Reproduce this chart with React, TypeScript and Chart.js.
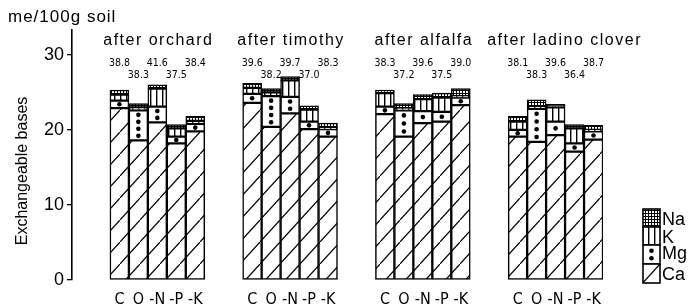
import React, { useEffect, useRef } from 'react';
import { Chart, registerables } from 'chart.js';
Chart.register(...registerables);

// ---- data ----
const groups = ['after orchard', 'after timothy', 'after alfalfa', 'after ladino clover'];
const categories = ['C', 'O', '-N', '-P', '-K'];
const ca = [22.9, 18.6, 21.0, 18.2, 19.8, 23.6, 20.4, 22.2, 20.1, 19.1, 22.1, 19.1, 20.9, 21.1, 23.3, 19.1, 18.4, 19.3, 17.1, 18.7];
const mg = [1.0, 4.0, 2.1, 0.9, 1.0, 1.2, 4.1, 2.2, 1.0, 1.0, 1.0, 3.5, 1.6, 1.3, 1.0, 0.9, 4.4, 1.8, 1.1, 1.1];
const kk = [0.8, 0.4, 2.4, 1.1, 0.4, 0.8, 0.5, 2.2, 1.6, 0.2, 1.8, 0.3, 1.6, 1.9, 0.2, 1.1, 0.3, 1.9, 2.0, 0.2];
const na = [0.6, 0.5, 0.5, 0.5, 0.6, 0.6, 0.5, 0.5, 0.5, 0.6, 0.4, 0.6, 0.6, 0.6, 1.0, 0.7, 0.9, 0.4, 0.5, 0.6];
const totals = ['38.8', '38.3', '41.6', '37.5', '38.4', '39.6', '38.2', '39.7', '37.0', '38.3', '38.3', '37.2', '39.6', '37.5', '39.0', '38.1', '38.3', '39.6', '36.4', '38.7'];
const yTicks = [0, 10, 20, 30];
const yMax = 33.3;
const unitLabel = 'me/100g soil';
const yTitle = 'Exchangeable bases';
const legendItems = ['Na', 'K', 'Mg', 'Ca'];

const GAP = 2;
const FONT = "'Liberation Sans', Arial, Helvetica, sans-serif";
const NARROW = "'Liberation Sans Narrow', 'DejaVu Sans Condensed', 'Liberation Sans', sans-serif";

function buildSlots() {
  const labels: string[] = [];
  const index: (number | null)[] = [];
  for (let g = 0; g < groups.length; g++) {
    for (let s = 0; s < GAP; s++) { labels.push(''); index.push(null); }
    categories.forEach((c, ci) => { labels.push(c); index.push(g * categories.length + ci); });
  }
  return { labels, index };
}

function makePattern(kind: string): CanvasPattern | string {
  const c = document.createElement('canvas');
  const x = c.getContext('2d')!;
  if (kind === 'ca') {
    const w = 20, h = 22;
    c.width = w; c.height = h;
    x.fillStyle = '#fff'; x.fillRect(0, 0, w, h);
    x.strokeStyle = '#000'; x.lineWidth = 1.2;
    x.beginPath(); x.moveTo(-w, 2 * h); x.lineTo(2 * w, -h); x.stroke();
  } else if (kind === 'k') {
    c.width = 6; c.height = 2;
    x.fillStyle = '#fff'; x.fillRect(0, 0, 6, 2);
    x.fillStyle = '#000'; x.fillRect(0, 0, 1.4, 2);
  } else if (kind === 'na') {
    c.width = 3; c.height = 3;
    x.fillStyle = '#fff'; x.fillRect(0, 0, 3, 3);
    x.fillStyle = '#000'; x.fillRect(0, 0, 3, 1); x.fillRect(0, 0, 1, 3);
  } else {
    return '#fff';
  }
  return x.createPattern(c, 'repeat')!;
}

export default function App() {
  const ref = useRef<HTMLCanvasElement>(null);
  useEffect(() => {
    const { labels, index } = buildSlots();
    const pick = (arr: number[]) => index.map((i) => (i === null ? null : arr[i]));
    const pats: Record<string, any> = { ca: makePattern('ca'), mg: makePattern('mg'), k: makePattern('k'), na: makePattern('na') };

    const dots = (ctx: CanvasRenderingContext2D, cx: number, top: number, bottom: number) => {
      const h = bottom - top;
      const n = Math.max(1, Math.round((h - 3) / 7));
      ctx.fillStyle = '#000';
      for (let j = 0; j < n; j++) {
        const cy = top + (h * (j + 0.5)) / n;
        ctx.beginPath(); ctx.arc(cx, cy, 2.3, 0, Math.PI * 2); ctx.fill();
      }
    };

    const decor = {
      id: 'decor',
      afterDatasetsDraw(chart: any) {
        const ctx = chart.ctx as CanvasRenderingContext2D;
        const meta = chart.getDatasetMeta(1);
        meta.data.forEach((el: any, si: number) => {
          if (index[si] === null) return;
          const p = el.getProps(['x', 'y', 'base'], true);
          dots(ctx, p.x, Math.min(p.y, p.base) + 1, Math.max(p.y, p.base) - 1);
        });
      },
      afterDraw(chart: any) {
        const ctx = chart.ctx as CanvasRenderingContext2D;
        const xs = chart.scales.x;
        const area = chart.chartArea;
        ctx.save();
        ctx.fillStyle = '#000';
        // unit label
        ctx.font = `17px ${FONT}`;
        (ctx as any).letterSpacing = '1px';
        ctx.textAlign = 'left'; ctx.textBaseline = 'middle';
        ctx.fillText(unitLabel, 8, 17);
        // group titles (centred over group, pushed right if they would touch the previous one)
        ctx.font = `16px ${FONT}`;
        (ctx as any).letterSpacing = '1.5px';
        ctx.textAlign = 'left';
        let prevRight = -Infinity;
        groups.forEach((g, gi) => {
          const first = gi * (GAP + categories.length) + GAP;
          const cx = (xs.getPixelForValue(first) + xs.getPixelForValue(first + categories.length - 1)) / 2;
          const w = ctx.measureText(g).width;
          let left = cx - w / 2 + 1;
          if (left < prevRight + 14) left = prevRight + 14;
          ctx.fillText(g, left, area.top + 11);
          prevRight = left + w;
        });
        // totals
        (ctx as any).letterSpacing = '0px';
        ctx.textAlign = 'center';
        ctx.font = `10.5px ${NARROW}`;
        index.forEach((i, si) => {
          if (i === null) return;
          const ci = i % categories.length;
          const y = ci % 2 === 0 ? area.top + 33 : area.top + 45;
          ctx.fillText(totals[i], xs.getPixelForValue(si), y);
        });
        // y title
        ctx.save();
        ctx.font = `16px ${FONT}`;
        ctx.translate(23, 171);
        ctx.rotate(-Math.PI / 2);
        ctx.textAlign = 'center';
        ctx.fillText(yTitle, 0, 0);
        ctx.restore();
        // legend
        const lx = 643, lw = 17;
        const segs = [
          { key: 'na', top: 209, bottom: 227, ly: 220 },
          { key: 'k', top: 227, bottom: 245, ly: 238 },
          { key: 'mg', top: 245, bottom: 264, ly: 254 },
          { key: 'ca', top: 264, bottom: 283, ly: 275 },
        ];
        segs.forEach((s, idx) => {
          ctx.fillStyle = pats[s.key];
          ctx.fillRect(lx, s.top, lw, s.bottom - s.top);
          ctx.strokeStyle = '#000'; ctx.lineWidth = 1.6;
          ctx.strokeRect(lx, s.top, lw, s.bottom - s.top);
          if (s.key === 'mg') dots(ctx, lx + lw / 2, s.top + 2, s.bottom - 2);
          ctx.fillStyle = '#000';
          ctx.font = `18px ${FONT}`;
          ctx.textAlign = 'left';
          ctx.fillText(legendItems[idx], lx + lw + 2, s.ly);
        });
        ctx.restore();
      },
    };

    const common = { borderColor: '#000', borderWidth: 1.5, borderSkipped: false, barPercentage: 1, categoryPercentage: 1 };
    const chart = new Chart(ref.current!, {
      type: 'bar',
      data: {
        labels,
        datasets: [
          { label: 'Ca', data: pick(ca), backgroundColor: pats.ca, ...common },
          { label: 'Mg', data: pick(mg), backgroundColor: pats.mg, ...common },
          { label: 'K', data: pick(kk), backgroundColor: pats.k, ...common },
          { label: 'Na', data: pick(na), backgroundColor: pats.na, ...common },
        ] as any,
      },
      options: {
        animation: false,
        responsive: false,
        devicePixelRatio: 1,
        layout: { padding: { top: 30, right: 93, bottom: 0, left: 0 } },
        plugins: { legend: { display: false }, tooltip: { enabled: false } },
        scales: {
          x: {
            stacked: true,
            grid: { display: false },
            border: { display: false },
            ticks: { autoSkip: false, maxRotation: 0, padding: 2, color: '#000', font: { size: 16, family: NARROW } },
            afterFit: (s: any) => { s.height = 24; },
          },
          y: {
            stacked: true,
            min: 0,
            max: yMax,
            afterBuildTicks: (s: any) => { s.ticks = yTicks.map((v) => ({ value: v })); },
            grid: { display: true, drawOnChartArea: false, drawTicks: true, tickLength: 5, color: '#000', lineWidth: 1.3 },
            border: { display: true, color: '#000', width: 1.6 },
            ticks: { padding: 3, color: '#000', font: { size: 18, family: FONT } },
            afterFit: (s: any) => { s.width = 72; },
          },
        },
      } as any,
      plugins: [decor],
    });
    return () => chart.destroy();
  }, []);
  return (
    <div style={{ position: 'fixed', left: 0, top: 0, width: 696, height: 304, background: '#fff' }}>
      <canvas ref={ref} width={696} height={304} />
    </div>
  );
}
